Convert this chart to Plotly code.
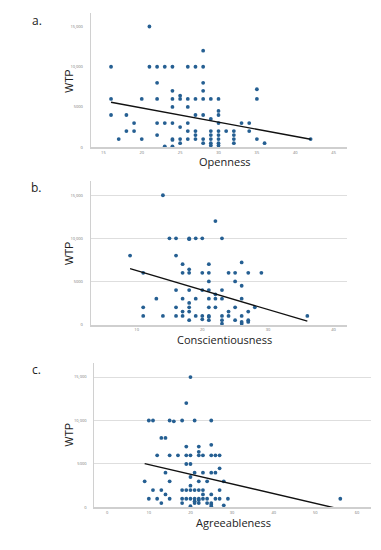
import plotly.graph_objects as go

# ---------------- data ----------------
# Panel a: Openness vs WTP
open_x = ([16]*3 + [17] + [18]*2 + [19]*2 + [20]*2 + [21]*2 + [22]*5 + [23]*3 + [24]*8 +
          [25]*5 + [26]*6 + [27]*6 + [28]*8 + [29]*7 + [30]*9 + [31] + [32]*4 + [33] +
          [34]*2 + [35]*3 + [36] + [42])
open_y = [10000, 6000, 4000,
          1000,
          4000, 2000,
          3000, 2000,
          6000, 1000,
          15000, 10000,
          10000, 8000, 6000, 3000, 1500,
          10000, 3000, 100,
          10000, 7000, 6000, 5000, 3000, 1000, 900, 100,
          6400, 6000, 2500, 1000, 500,
          10000, 6000, 5000, 3000, 2000, 1000,
          10000, 6000, 4000, 2000, 1500, 1000,
          12000, 10000, 8000, 7000, 6000, 4000, 1000, 500,
          6000, 3500, 2000, 1500, 1000, 500, 200,
          6000, 4500, 4000, 3000, 2000, 1500, 1000, 500, 200,
          2000,
          2000, 1500, 1000, 500,
          3000,
          3000, 2000,
          7200, 6000, 1000,
          500,
          1000]
open_fit_x = [16, 42]
open_fit_y = [5580, 990]

# Panel b: Conscientiousness vs WTP
cons_x = ([9] + [11]*3 + [13] + [14]*2 + [15] + [16]*5 + [17]*5 + [18]*9 + [19]*3 +
          [20]*5 + [21]*9 + [22]*4 + [23]*6 + [24]*3 + [25]*4 + [26]*6 + [27]*4 +
          [28] + [29] + [36])
cons_y = [8000,
          6000, 2000, 1000,
          3000,
          15000, 1000,
          10000,
          10000, 8000, 4000, 2000, 1000,
          7000, 6000, 3000, 1500, 1000,
          10000, 9900, 6400, 6000, 4000, 2500, 2000, 1500, 500,
          10000, 3000, 1000,
          10000, 6000, 4000, 1000, 600,
          7000, 6000, 5000, 4000, 3000, 2000, 1000, 900, 500,
          12000, 3500, 3000, 2000,
          10000, 4000, 3000, 1000, 500, 100,
          6000, 1500, 1000,
          6000, 5000, 2000, 500,
          7200, 4500, 3000, 1000, 300, 100,
          6000, 1500, 500, 300,
          2000,
          6000,
          1000]
cons_fit_x = [9, 36]
cons_fit_y = [6480, 390]

# Panel c: Agreeableness vs WTP
agr_x = ([9] + [10]*2 + [11]*2 + [12]*2 + [13]*3 + [14]*3 + [15]*4 + [16] + [17] +
         [18]*4 + [19]*6 + [20]*8 + [21]*6 + [22]*8 + [23]*5 + [24]*3 + [25]*8 +
         [26]*3 + [27]*4 + [28]*2 + [29] + [56])
agr_y = [3000,
         10000, 1000,
         10000, 2000,
         6000, 1000,
         8000, 2000, 500,
         8000, 4000, 1500,
         10000, 6000, 3000, 1000,
         9900,
         6000,
         10000, 2000, 1000, 500,
         12000, 7000, 6000, 5000, 2000, 1000,
         15000, 6000, 5000, 3500, 2500, 2000, 1000, 150,
         10000, 4000, 2000, 1000, 700, 500,
         7000, 6400, 6000, 3000, 2000, 1000, 850, 500,
         6000, 4000, 2000, 1500, 1000,
         3000, 1000, 500,
         10000, 7200, 6000, 4000, 1500, 500, 300, 100,
         6000, 4000, 1000,
         6000, 4500, 2000, 1000,
         3000, 250,
         1000,
         1000]
agr_fit_x = [9, 56]
agr_fit_y = [5040, -200]

y_tickvals = [0, 5000, 10000, 15000]
y_ticktext = ["0", "5000", "10,000", "15,000"]
open_ticks = [15, 20, 25, 30, 35, 40, 45]
cons_ticks = [10, 20, 30, 40]
agr_ticks = [0, 10, 20, 30, 40, 50, 60]

# ---------------- figure ----------------
W, H = 381, 550
MARK = "#255f92"
FONT = "Open Sans"

panels = [
    dict(x=open_x, y=open_y, fx=open_fit_x, fy=open_fit_y, ticks=open_ticks,
         xr=[13.35, 46.7], px=(90.7, 346.7), py=(13.3, 147.7), grid=False,
         letter="a.", lpos=(36.5, 21), title="Openness", tpos=(224.5, 162),
         wtp=(69, 82)),
    dict(x=cons_x, y=cons_y, fx=cons_fit_x, fy=cons_fit_y, ticks=cons_ticks,
         xr=[3.0, 42.0], px=(90.7, 346.7), py=(181.7, 325.7), grid=True,
         letter="b.", lpos=(36.5, 188), title="Conscientiousness", tpos=(224.5, 341),
         wtp=(69, 255)),
    dict(x=agr_x, y=agr_y, fx=agr_fit_x, fy=agr_fit_y, ticks=agr_ticks,
         xr=[-3.1, 63.3], px=(94.3, 370.7), py=(364, 509.3), grid=True,
         letter="c.", lpos=(36, 370.5), title="Agreeableness", tpos=(233.3, 524),
         wtp=(69, 437)),
]

fig = go.Figure()
annotations = []
for i, p in enumerate(panels, start=1):
    xa = "x" if i == 1 else f"x{i}"
    ya = "y" if i == 1 else f"y{i}"
    fig.add_trace(go.Scatter(x=p["x"], y=p["y"], mode="markers", xaxis=xa, yaxis=ya,
                             marker=dict(size=3.8, color=MARK), cliponaxis=False,
                             showlegend=False, hoverinfo="x+y"))
    fig.add_trace(go.Scatter(x=p["fx"], y=p["fy"], mode="lines", xaxis=xa, yaxis=ya,
                             line=dict(color="#111111", width=1.4),
                             showlegend=False, hoverinfo="skip"))
    xkey = "xaxis" if i == 1 else f"xaxis{i}"
    ykey = "yaxis" if i == 1 else f"yaxis{i}"
    fig.update_layout(**{
        xkey: dict(domain=[p["px"][0] / W, p["px"][1] / W], anchor=ya,
                   range=p["xr"], tickvals=p["ticks"], showgrid=False, zeroline=False,
                   showline=True, linecolor="#cfcfcf", linewidth=1.6, ticks="",
                   tickfont=dict(size=4, color="#777777", family=FONT),
                   ticklabelstandoff=0),
        ykey: dict(domain=[1 - p["py"][1] / H, 1 - p["py"][0] / H], anchor=xa,
                   range=[0, 16650], tickvals=y_tickvals, ticktext=y_ticktext,
                   showgrid=p["grid"], gridcolor="#dedede", gridwidth=1.2,
                   zeroline=False, showline=True, linecolor="#d0d0d0", linewidth=1,
                   ticks="", tickfont=dict(size=4, color="#777777", family=FONT),
                   ticklabelstandoff=6),
    })
    annotations.append(dict(text=p["letter"], x=p["lpos"][0] / W, y=1 - p["lpos"][1] / H,
                            xref="paper", yref="paper", showarrow=False,
                            xanchor="center", yanchor="middle",
                            font=dict(size=12, color="#222222", family=FONT)))
    annotations.append(dict(text=p["title"], x=p["tpos"][0] / W, y=1 - p["tpos"][1] / H,
                            xref="paper", yref="paper", showarrow=False,
                            xanchor="center", yanchor="middle",
                            font=dict(size=11, color="#222222", family=FONT)))
    annotations.append(dict(text="WTP", x=p["wtp"][0] / W, y=1 - p["wtp"][1] / H,
                            xref="paper", yref="paper", showarrow=False, textangle=-90,
                            xanchor="center", yanchor="middle",
                            font=dict(size=10.5, color="#222222",
                                      family="Liberation Sans, Arial, sans-serif")))

fig.update_layout(width=W, height=H, margin=dict(l=0, r=0, t=0, b=0),
                  paper_bgcolor="white", plot_bgcolor="white",
                  annotations=annotations, showlegend=False)

fig.write_html("out.html", config={"displayModeBar": False},
               post_script="document.body.style.margin='0';document.body.style.padding='0';")
